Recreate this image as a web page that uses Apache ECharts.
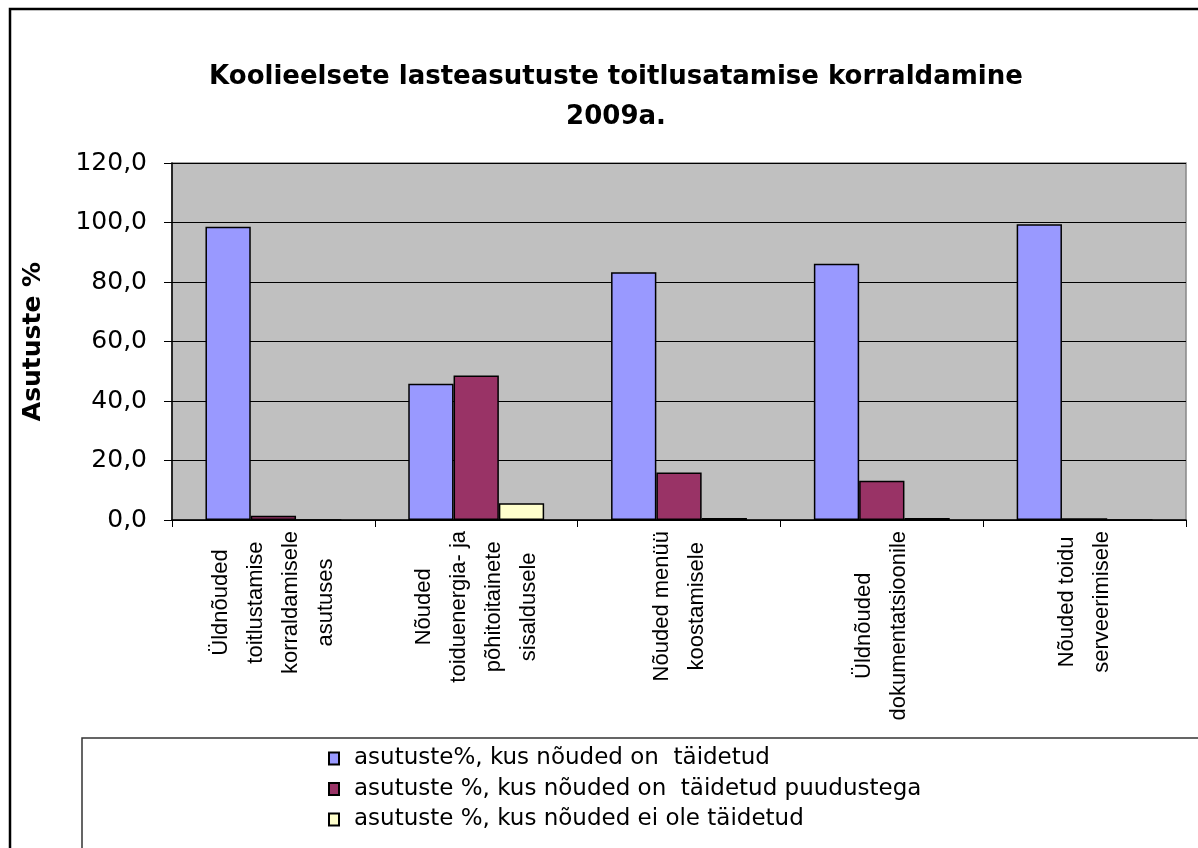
<!DOCTYPE html>
<html>
<head>
<meta charset="utf-8">
<script src="https://cdn.jsdelivr.net/npm/echarts@6/dist/echarts.min.js"></script>
<style>
  html, body { margin: 0; padding: 0; background: #fff; }
  #chart { width: 1198px; height: 848px; }
</style>
</head>
<body>
<div id="chart"></div>
<script>
// kategooriad (x-telg)
const categories = [
  'Üldnõuded\ntoitlustamise\nkorraldamisele\nasutuses',
  'Nõuded\ntoiduenergia- ja\npõhitoitainete\nsisaldusele',
  'Nõuded menüü\nkoostamisele',
  'Üldnõuded\ndokumentatsioonile',
  'Nõuded toidu\nserveerimisele'
];

// seeriate nimed
const seriesNames = [
  'asutuste%, kus nõuded on  täidetud',
  'asutuste %, kus nõuded on  täidetud puudustega',
  'asutuste %, kus nõuded ei ole täidetud'
];

// väärtused (%)
const taidetud = [98.6, 45.8, 83.3, 86.1, 99.4];
const puudustega = [1.4, 48.6, 16.0, 13.2, 0.6];
const eiOle = [0, 5.6, 0.7, 0.7, 0];

// y-telje jaotised
const yTicks = [0, 20, 40, 60, 80, 100, 120];

const colors = ['#9999FF', '#993366', '#FFFFCC'];

const chart = echarts.init(document.getElementById('chart'));

const makeSeries = (name, data, color) => ({
  name,
  type: 'bar',
  data,
  barGap: '0%',
  barCategoryGap: '33%',
  itemStyle: {
    color,
    borderColor: '#000',
    borderWidth: 1.5
  }
});

const option = {
  backgroundColor: '#fff',
  animation: false,
  title: {
    text: 'Koolieelsete lasteasutuste toitlusatamise korraldamine\n2009a.',
    left: 611,
    top: 52,
    textAlign: 'center',
    textStyle: {
      fontFamily: 'DejaVu Sans',
      fontWeight: 'bold',
      fontSize: 26,
      lineHeight: 40,
      color: '#000'
    }
  },
  graphic: [
    {
      type: 'rect',
      z: -10,
      shape: { x: 10, y: 9, width: 1250, height: 900 },
      style: { fill: 'none', stroke: '#000', lineWidth: 2.5 }
    },
    {
      type: 'rect',
      z: -10,
      shape: { x: 82, y: 738, width: 1200, height: 200 },
      style: { fill: 'none', stroke: '#333', lineWidth: 1.5 }
    }
  ],
  legend: {
    orient: 'vertical',
    left: 323,
    top: 742,
    icon: 'rect',
    itemWidth: 10,
    itemHeight: 12,
    itemGap: 7.5,
    data: seriesNames,
    textStyle: {
      fontFamily: 'DejaVu Sans',
      fontSize: 23,
      lineHeight: 23,
      color: '#000',
      padding: [0, 0, 0, 10]
    }
  },
  grid: {
    left: 172,
    right: 12,
    top: 163,
    bottom: 328,
    show: true,
    backgroundColor: '#C0C0C0',
    borderColor: '#888',
    borderWidth: 1.5
  },
  xAxis: {
    type: 'category',
    data: categories,
    axisLine: { lineStyle: { color: '#000', width: 1.5 } },
    axisTick: { show: true, length: 7, lineStyle: { color: '#000' } },
    axisLabel: {
      rotate: 90,
      margin: 11,
      interval: 0,
      formatter: (v) => v.split('\n').map(l => '{c|' + l + '}').join('\n'),
      rich: {
        c: {
          align: 'center',
          fontFamily: 'Liberation Sans',
          fontSize: 22,
          lineHeight: 35,
          color: '#000'
        }
      }
    }
  },
  yAxis: {
    type: 'value',
    min: yTicks[0],
    max: yTicks[yTicks.length - 1],
    interval: yTicks[1] - yTicks[0],
    name: 'Asutuste %',
    nameLocation: 'middle',
    nameRotate: 90,
    nameGap: 126,
    nameTextStyle: {
      fontFamily: 'DejaVu Sans',
      fontWeight: 'bold',
      fontSize: 25,
      color: '#000'
    },
    axisLine: { show: true, lineStyle: { color: '#000', width: 1.5 } },
    axisTick: { show: true, length: 8, lineStyle: { color: '#000' } },
    splitLine: { lineStyle: { color: '#000', width: 1 } },
    axisLabel: {
      margin: 25,
      fontFamily: 'DejaVu Sans',
      fontSize: 25,
      color: '#000',
      formatter: (v) => v.toFixed(1).replace('.', ',')
    }
  },
  series: [
    makeSeries(seriesNames[0], taidetud, colors[0]),
    makeSeries(seriesNames[1], puudustega, colors[1]),
    makeSeries(seriesNames[2], eiOle, colors[2])
  ]
};

chart.setOption(option);
</script>
</body>
</html>
